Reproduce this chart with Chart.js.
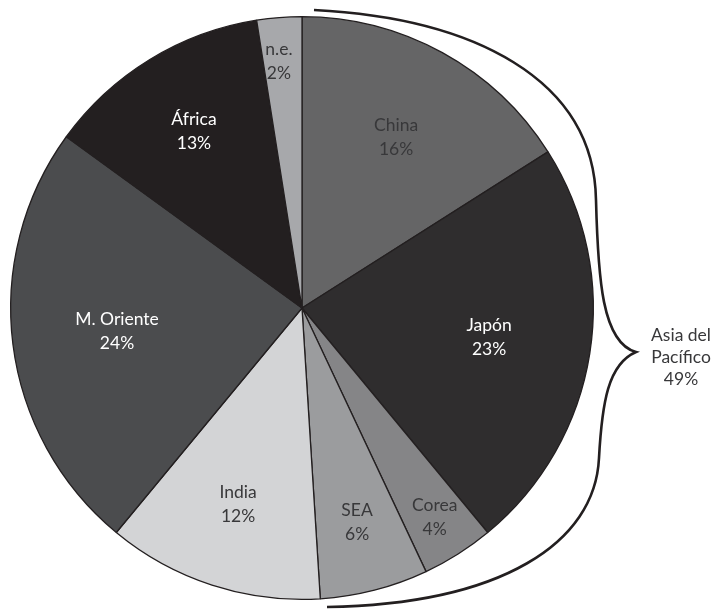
<!DOCTYPE html>
<html>
<head>
<meta charset="utf-8">
<script src="https://cdn.jsdelivr.net/npm/chart.js@4.4.0/dist/chart.umd.min.js"></script>
<style>
  html, body { margin: 0; padding: 0; background: #ffffff; }
  #wrap { width: 718px; height: 610px; }
</style>
</head>
<body>
<div id="wrap"><canvas id="c" width="718" height="610"></canvas></div>
<script>
// ---- data ----
const categories = ["China", "Japón", "Corea", "SEA", "India", "M. Oriente", "África", "n.e."];
// shares in % (labels show them rounded)
const shares = [16, 23, 4, 6, 12, 24, 12.51, 2.49];
const asiaPacificGroup = ["China", "Japón", "Corea", "SEA"];
const groupLabelLines = ["Asia del", "Pacífico"];

// ---- styles ----
const sliceColors = ["#656566", "#2f2d2e", "#858587", "#9b9c9e", "#d3d4d6", "#4b4c4e", "#231f20", "#a7a8ab"];
const labelColors = ["#38383a", "#ffffff", "#38383a", "#38383a", "#38383a", "#ffffff", "#ffffff", "#38383a"];
const labelRadiusFrac = [0.67, 0.65, 0.85, 0.76, 0.71, 0.64, 0.71, 0.85];
const labelAngleShift = [0, 0, 0, 0, 0, 0, 0, -0.015];
const FONT = "400 17.5px Lato, 'Open Sans', sans-serif";

const total = shares.reduce((s, v) => s + v, 0);
const pctText = v => Math.round(v / total * 100) + '%';

const labelPlugin = {
  id: 'sliceLabels',
  afterDatasetsDraw(chart) {
    const ctx = chart.ctx;
    const meta = chart.getDatasetMeta(0);
    ctx.save();
    ctx.font = FONT;
    ctx.textAlign = 'center';
    ctx.textBaseline = 'middle';
    meta.data.forEach((arc, i) => {
      const p = arc.getProps(['x', 'y', 'startAngle', 'endAngle', 'outerRadius'], true);
      const mid = (p.startAngle + p.endAngle) / 2 + labelAngleShift[i];
      const d = p.outerRadius * labelRadiusFrac[i];
      const x = p.x + Math.cos(mid) * d;
      const y = p.y + Math.sin(mid) * d;
      ctx.fillStyle = labelColors[i];
      ctx.fillText(categories[i], x, y - 12);
      ctx.fillText(pctText(shares[i]), x, y + 12);
    });

    // Brace around Asia-Pacific group
    const a0 = meta.data[0].getProps(['x', 'y', 'outerRadius'], true);
    const cx = a0.x, cy = a0.y;
    ctx.strokeStyle = '#231f20';
    ctx.lineWidth = 2.6;
    ctx.beginPath();
    ctx.moveTo(cx + 12, cy - 298);
    ctx.bezierCurveTo(cx + 170, cy - 290, cx + 292, cy - 230, cx + 294, cy - 108);
    ctx.bezierCurveTo(cx + 296, cy - 30, cx + 300, cy + 35, cx + 334, cy + 44);
    ctx.bezierCurveTo(cx + 306, cy + 56, cx + 300, cy + 95, cx + 297, cy + 150);
    ctx.bezierCurveTo(cx + 293, cy + 235, cx + 200, cy + 296, cx + 25, cy + 299);
    ctx.stroke();

    // group label
    const groupSum = asiaPacificGroup.reduce((s, n) => s + shares[categories.indexOf(n)], 0);
    ctx.fillStyle = '#38383a';
    const tx = cx + 379, ty = cy + 49;
    ctx.fillText(groupLabelLines[0], tx, ty - 22);
    ctx.fillText(groupLabelLines[1], tx, ty);
    ctx.fillText(pctText(groupSum), tx, ty + 22);
    ctx.restore();
  }
};

new Chart(document.getElementById('c'), {
  type: 'pie',
  data: {
    labels: categories,
    datasets: [{
      data: shares,
      backgroundColor: sliceColors,
      borderColor: '#231f20',
      borderWidth: 1.3
    }]
  },
  options: {
    responsive: false,
    animation: false,
    layout: { padding: { left: 10, top: 16, right: 124, bottom: 10 } },
    plugins: {
      legend: { display: false },
      tooltip: { enabled: false },
      title: { display: false }
    }
  },
  plugins: [labelPlugin]
});
</script>
</body>
</html>
